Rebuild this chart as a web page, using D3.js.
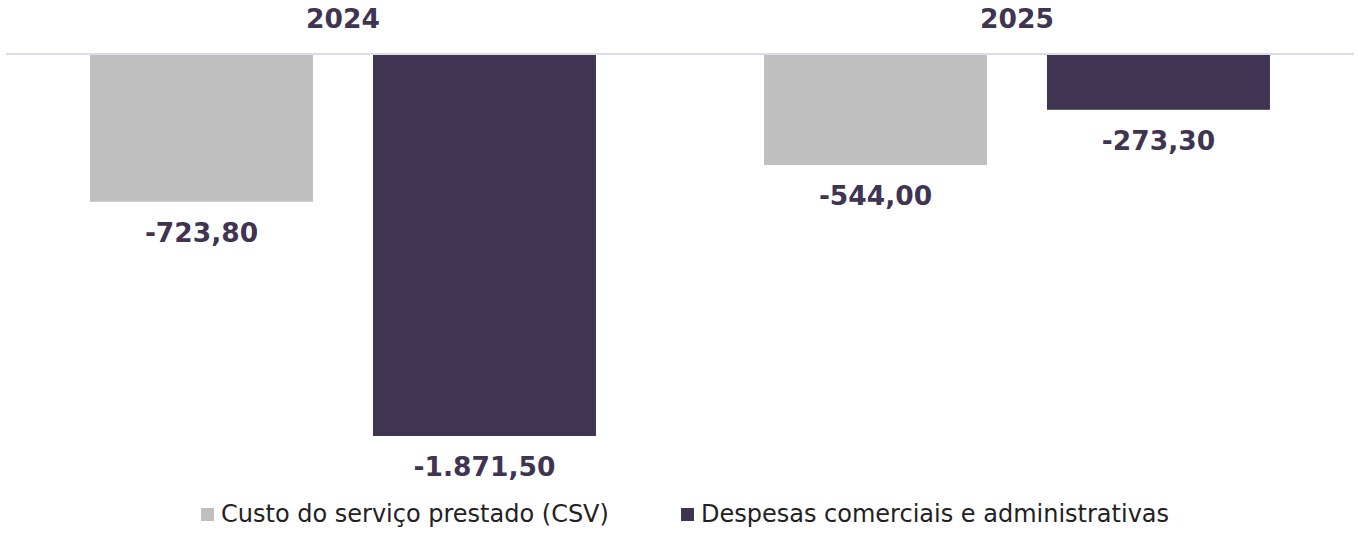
<!DOCTYPE html>
<html>
<head>
<meta charset="utf-8">
<script src="https://cdn.jsdelivr.net/npm/d3@7"></script>
<style>
  body { margin: 0; background: #fff; }
  text { font-family: "DejaVu Sans", Verdana, sans-serif; }
</style>
</head>
<body>
<svg id="chart" width="1358" height="535"></svg>
<script>
const years = ["2024", "2025"];
const series = ["Custo do serviço prestado (CSV)", "Despesas comerciais e administrativas"];
const csvValues = [-723.8, -544.0];
const despValues = [-1871.5, -273.3];
const colors = ["#bfbfbf", "#3f3452"];

const svg = d3.select("#chart");

const rows = years.map((y, i) => ({ year: y, values: [csvValues[i], despValues[i]] }));

const x0 = d3.scaleBand().domain(years).range([6, 1354]).padding(0);
const x1 = d3.scaleBand().domain(d3.range(series.length)).range([0, x0.bandwidth()])
  .paddingInner(0.212).paddingOuter(0.297);
const y = d3.scaleLinear().domain([0, -1871.5]).range([54, 436]);

const fmt = v => {
  // formato pt-BR: ponto para milhar, vírgula para decimal
  const s = d3.format(",.2f")(v);
  return s.replace(/,/g, "#").replace(/\./g, ",").replace(/#/g, ".").replace("−", "-");
};

// titulos dos anos
svg.selectAll(".year")
  .data(years).enter()
  .append("text")
  .attr("class", "year")
  .attr("x", d => x0(d) + x0.bandwidth() / 2)
  .attr("y", 28)
  .attr("text-anchor", "middle")
  .attr("font-size", 26.5)
  .attr("font-weight", "bold")
  .attr("fill", colors[1])
  .text(d => d);

const g = svg.selectAll(".grp")
  .data(rows).enter()
  .append("g")
  .attr("transform", d => `translate(${x0(d.year)},0)`);

g.selectAll("rect")
  .data(d => d.values.map((v, i) => ({ v, i })))
  .enter()
  .append("rect")
  .attr("x", d => x1(d.i))
  .attr("width", x1.bandwidth())
  .attr("y", y(0))
  .attr("height", d => y(d.v) - y(0))
  .attr("fill", d => colors[d.i]);

g.selectAll(".lbl")
  .data(d => d.values.map((v, i) => ({ v, i })))
  .enter()
  .append("text")
  .attr("class", "lbl")
  .attr("x", d => x1(d.i) + x1.bandwidth() / 2)
  .attr("y", d => y(d.v) + 40)
  .attr("text-anchor", "middle")
  .attr("font-size", 26.5)
  .attr("font-weight", "bold")
  .attr("fill", colors[1])
  .text(d => fmt(d.v));

// linha do eixo
svg.append("line")
  .attr("x1", 6).attr("x2", 1354)
  .attr("y1", y(0)).attr("y2", y(0))
  .attr("stroke", "#dcdce8")
  .attr("stroke-width", 2);

// legenda
const legendX = [201, 681];
const legend = svg.selectAll(".leg")
  .data(series).enter()
  .append("g")
  .attr("transform", (d, i) => `translate(${legendX[i]},508)`);

legend.append("rect")
  .attr("width", 13).attr("height", 13)
  .attr("fill", (d, i) => colors[i]);

legend.append("text")
  .attr("x", 20)
  .attr("y", 14)
  .attr("font-size", 24)
  .attr("fill", "#222")
  .text(d => d);
</script>
</body>
</html>
